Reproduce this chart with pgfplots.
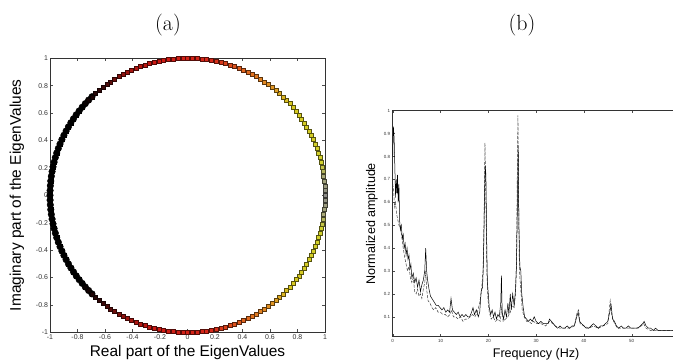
\documentclass[border=0pt]{standalone}
\usepackage{fontspec}
\setsansfont{Liberation Sans}
\usepackage{pgfplots}
\pgfplotsset{compat=1.18}
\usepackage{pgfplotstable}

\pgfplotstableread{
x y m
1.0000 0.0000 0
0.9994 0.0349 2
0.9976 0.0698 4
0.9945 0.1045 6
0.9903 0.1392 8
0.9848 0.1736 10
0.9781 0.2079 12
0.9703 0.2419 14
0.9613 0.2756 16
0.9511 0.3090 18
0.9397 0.3420 20
0.9272 0.3746 22
0.9135 0.4067 24
0.8988 0.4384 26
0.8829 0.4695 28
0.8660 0.5000 30
0.8480 0.5299 32
0.8290 0.5592 34
0.8090 0.5878 36
0.7880 0.6157 38
0.7660 0.6428 40
0.7431 0.6691 42
0.7193 0.6947 44
0.6947 0.7193 46
0.6691 0.7431 48
0.6428 0.7660 50
0.6157 0.7880 52
0.5878 0.8090 54
0.5592 0.8290 56
0.5299 0.8480 58
0.5000 0.8660 60
0.4695 0.8829 62
0.4384 0.8988 64
0.4067 0.9135 66
0.3746 0.9272 68
0.3420 0.9397 70
0.3090 0.9511 72
0.2756 0.9613 74
0.2419 0.9703 76
0.2079 0.9781 78
0.1736 0.9848 80
0.1392 0.9903 82
0.1045 0.9945 84
0.0698 0.9976 86
0.0349 0.9994 88
0.0000 1.0000 90
-0.0349 0.9994 92
-0.0698 0.9976 94
-0.1045 0.9945 96
-0.1392 0.9903 98
-0.1736 0.9848 100
-0.2079 0.9781 102
-0.2419 0.9703 104
-0.2756 0.9613 106
-0.3090 0.9511 108
-0.3420 0.9397 110
-0.3746 0.9272 112
-0.4067 0.9135 114
-0.4384 0.8988 116
-0.4695 0.8829 118
-0.5000 0.8660 120
-0.5299 0.8480 122
-0.5592 0.8290 124
-0.5878 0.8090 126
-0.6157 0.7880 128
-0.6428 0.7660 130
-0.6691 0.7431 132
-0.6947 0.7193 134
-0.7193 0.6947 136
-0.7431 0.6691 138
-0.7660 0.6428 140
-0.7880 0.6157 142
-0.8090 0.5878 144
-0.8290 0.5592 146
-0.8480 0.5299 148
-0.8660 0.5000 150
-0.8829 0.4695 152
-0.8988 0.4384 154
-0.9135 0.4067 156
-0.9272 0.3746 158
-0.9397 0.3420 160
-0.9511 0.3090 162
-0.9613 0.2756 164
-0.9703 0.2419 166
-0.9781 0.2079 168
-0.9848 0.1736 170
-0.9903 0.1392 172
-0.9945 0.1045 174
-0.9976 0.0698 176
-0.9994 0.0349 178
-1.0000 0.0000 180
}\uppertab

\pgfplotstableread{
x y m
0.9994 -0.0349 2
0.9976 -0.0698 4
0.9945 -0.1045 6
0.9903 -0.1392 8
0.9848 -0.1736 10
0.9781 -0.2079 12
0.9703 -0.2419 14
0.9613 -0.2756 16
0.9511 -0.3090 18
0.9397 -0.3420 20
0.9272 -0.3746 22
0.9135 -0.4067 24
0.8988 -0.4384 26
0.8829 -0.4695 28
0.8660 -0.5000 30
0.8480 -0.5299 32
0.8290 -0.5592 34
0.8090 -0.5878 36
0.7880 -0.6157 38
0.7660 -0.6428 40
0.7431 -0.6691 42
0.7193 -0.6947 44
0.6947 -0.7193 46
0.6691 -0.7431 48
0.6428 -0.7660 50
0.6157 -0.7880 52
0.5878 -0.8090 54
0.5592 -0.8290 56
0.5299 -0.8480 58
0.5000 -0.8660 60
0.4695 -0.8829 62
0.4384 -0.8988 64
0.4067 -0.9135 66
0.3746 -0.9272 68
0.3420 -0.9397 70
0.3090 -0.9511 72
0.2756 -0.9613 74
0.2419 -0.9703 76
0.2079 -0.9781 78
0.1736 -0.9848 80
0.1392 -0.9903 82
0.1045 -0.9945 84
0.0698 -0.9976 86
0.0349 -0.9994 88
0.0000 -1.0000 90
-0.0349 -0.9994 92
-0.0698 -0.9976 94
-0.1045 -0.9945 96
-0.1392 -0.9903 98
-0.1736 -0.9848 100
-0.2079 -0.9781 102
-0.2419 -0.9703 104
-0.2756 -0.9613 106
-0.3090 -0.9511 108
-0.3420 -0.9397 110
-0.3746 -0.9272 112
-0.4067 -0.9135 114
-0.4384 -0.8988 116
-0.4695 -0.8829 118
-0.5000 -0.8660 120
-0.5299 -0.8480 122
-0.5592 -0.8290 124
-0.5878 -0.8090 126
-0.6157 -0.7880 128
-0.6428 -0.7660 130
-0.6691 -0.7431 132
-0.6947 -0.7193 134
-0.7193 -0.6947 136
-0.7431 -0.6691 138
-0.7660 -0.6428 140
-0.7880 -0.6157 142
-0.8090 -0.5878 144
-0.8290 -0.5592 146
-0.8480 -0.5299 148
-0.8660 -0.5000 150
-0.8829 -0.4695 152
-0.8988 -0.4384 154
-0.9135 -0.4067 156
-0.9272 -0.3746 158
-0.9397 -0.3420 160
-0.9511 -0.3090 162
-0.9613 -0.2756 164
-0.9703 -0.2419 166
-0.9781 -0.2079 168
-0.9848 -0.1736 170
-0.9903 -0.1392 172
-0.9945 -0.1045 174
-0.9976 -0.0698 176
-0.9994 -0.0349 178
}\lowertab

\pgfplotstableread{
f a
0.0 0.80
0.15 0.93
0.3 0.88
0.45 0.75
0.6 0.62
0.75 0.70
0.9 0.64
1.0 0.72
1.15 0.60
1.3 0.68
1.45 0.52
1.6 0.48
1.8 0.50
2.0 0.44
2.2 0.46
2.4 0.40
2.6 0.42
2.8 0.37
3.0 0.40
3.2 0.35
3.4 0.37
3.6 0.31
3.8 0.33
4.0 0.27
4.3 0.29
4.6 0.25
4.9 0.27
5.2 0.23
5.5 0.26
5.8 0.21
6.1 0.24
6.4 0.26
6.7 0.30
6.9 0.40
7.1 0.30
7.3 0.26
7.6 0.22
7.9 0.19
8.2 0.18
8.5 0.17
8.8 0.16
9.1 0.15
9.5 0.15
9.9 0.14
10.3 0.13
10.7 0.14
11.1 0.12
11.5 0.13
11.9 0.12
12.2 0.18
12.5 0.13
12.9 0.12
13.3 0.11
13.7 0.12
14.1 0.10
14.5 0.11
14.9 0.10
15.3 0.11
15.7 0.10
16.1 0.10
16.5 0.12
16.8 0.14
17.1 0.11
17.5 0.13
17.9 0.10
18.2 0.12
18.5 0.21
18.8 0.23
19.0 0.35
19.2 0.62
19.35 0.76
19.5 0.72
19.65 0.45
19.8 0.25
20.0 0.20
20.2 0.14
20.5 0.11
20.8 0.13
21.1 0.10
21.4 0.12
21.7 0.09
22.0 0.11
22.3 0.10
22.6 0.16
22.75 0.28
22.9 0.12
23.2 0.09
23.5 0.13
23.8 0.10
24.1 0.16
24.3 0.11
24.6 0.20
24.8 0.13
25.1 0.20
25.4 0.15
25.7 0.22
25.9 0.33
26.1 0.60
26.25 0.85
26.4 0.50
26.6 0.32
26.8 0.30
27.0 0.20
27.3 0.14
27.6 0.10
28.0 0.09
28.4 0.08
28.8 0.09
29.2 0.08
29.6 0.10
30.0 0.08
30.5 0.07
31.0 0.08
31.5 0.07
32.0 0.07
32.5 0.07
32.8 0.09
33.2 0.08
33.6 0.07
34.0 0.06
34.5 0.05
35.0 0.06
35.5 0.05
36.0 0.05
36.5 0.06
37.0 0.05
37.5 0.06
38.0 0.06
38.5 0.10
38.8 0.12
39.1 0.08
39.5 0.07
40.0 0.06
40.5 0.05
41.0 0.05
41.5 0.06
42.0 0.07
42.5 0.06
43.0 0.05
43.5 0.06
44.0 0.06
44.5 0.07
45.0 0.08
45.4 0.12
45.7 0.15
46.0 0.09
46.4 0.08
46.8 0.06
47.3 0.05
47.8 0.06
48.3 0.05
48.8 0.05
49.3 0.06
49.8 0.05
50.3 0.05
50.8 0.05
51.3 0.05
51.8 0.06
52.3 0.07
52.6 0.08
53.0 0.06
53.5 0.05
54.0 0.05
54.5 0.04
55.0 0.05
55.5 0.04
56.0 0.04
56.5 0.04
57.0 0.04
57.5 0.04
58.0 0.04
58.5 0.04
59.0 0.04
60.0 0.04
}\solidtab

\pgfplotstableread{
f a
0.0 0.68
0.2 0.65
0.4 0.58
0.6 0.60
0.8 0.55
1.0 0.53
1.3 0.50
1.6 0.49
1.9 0.45
2.2 0.40
2.5 0.36
2.8 0.33
3.1 0.30
3.4 0.32
3.7 0.27
4.0 0.25
4.3 0.27
4.6 0.21
4.9 0.20
5.2 0.22
5.5 0.19
5.8 0.20
6.1 0.18
6.4 0.22
6.7 0.25
6.9 0.30
7.1 0.22
7.4 0.17
7.8 0.16
8.2 0.14
8.6 0.13
9.0 0.14
9.5 0.12
10.0 0.12
10.5 0.11
11.0 0.11
11.5 0.10
12.0 0.11
12.3 0.13
12.7 0.10
13.2 0.10
13.7 0.09
14.2 0.10
14.7 0.08
15.2 0.09
15.7 0.09
16.2 0.10
16.7 0.11
17.2 0.10
17.7 0.12
18.2 0.16
18.6 0.22
18.9 0.30
19.1 0.50
19.3 0.86
19.5 0.60
19.7 0.30
19.9 0.18
20.2 0.12
20.6 0.09
21.0 0.10
21.5 0.08
22.0 0.09
22.5 0.08
22.8 0.14
23.1 0.08
23.6 0.09
24.1 0.10
24.6 0.12
25.0 0.15
25.4 0.14
25.7 0.20
25.9 0.35
26.05 0.70
26.2 0.98
26.35 0.60
26.5 0.30
26.8 0.22
27.1 0.13
27.5 0.10
28.0 0.08
28.5 0.08
29.0 0.07
29.5 0.08
30.0 0.07
31.0 0.07
32.0 0.06
32.8 0.08
33.5 0.07
34.0 0.06
35.0 0.05
36.0 0.05
37.0 0.05
38.0 0.06
38.6 0.12
38.9 0.13
39.2 0.07
40.0 0.06
41.0 0.05
42.0 0.06
43.0 0.05
44.0 0.06
45.0 0.07
45.5 0.17
45.8 0.11
46.2 0.08
47.0 0.05
48.0 0.05
49.0 0.05
50.0 0.05
51.0 0.05
52.0 0.06
52.5 0.07
53.0 0.05
54.0 0.04
55.0 0.04
56.0 0.04
57.0 0.04
58.0 0.04
60.0 0.04
}\dashedtab

\begin{document}
\begin{tikzpicture}[x=1bp,y=1bp]
\useasboundingbox (0,0) rectangle (673,362);
\clip (0,0) rectangle (673,362);

\node[font=\fontsize{22}{24}\selectfont] at (168,337) {(a)};
\node[font=\fontsize{22}{24}\selectfont] at (522,337) {(b)};

\begin{axis}[
  at={(50bp,29.7bp)}, anchor=south west,
  scale only axis, width=275bp, height=274bp,
  xmin=-1, xmax=1, ymin=-1, ymax=1,
  xtick={-1,-0.8,-0.6,-0.4,-0.2,0,0.2,0.4,0.6,0.8,1},
  ytick={-1,-0.8,-0.6,-0.4,-0.2,0,0.2,0.4,0.6,0.8,1},
  tick label style={font=\sffamily\fontsize{7}{8}\selectfont, color=black!80},
  /pgf/number format/assume math mode=true,
  /pgf/number format/fixed,
  major tick length=3bp,
  axis line style={black!80, line width=0.5bp},
  tick style={black!70, line width=0.4bp},
  xticklabel style={yshift=1bp},
  yticklabel style={xshift=1.5bp},
  xlabel={Real part of the EigenValues},
  ylabel={Imaginary part of the EigenValues},
  label style={font=\sffamily\fontsize{15.5}{17}\selectfont},
  xlabel style={at={(axis description cs:0.5,0)}, anchor=north, yshift=-13bp, inner sep=0pt},
  ylabel style={at={(axis description cs:-0.12,0.5)}, anchor=center, inner sep=0pt},
  colormap={eig}{rgb255(0)=(140,140,135) rgb255(8)=(170,170,120) rgb255(14)=(210,210,45) rgb255(42)=(215,200,30) rgb255(52)=(225,150,35) rgb255(66)=(225,100,30) rgb255(80)=(215,40,25) rgb255(104)=(205,25,20) rgb255(116)=(160,20,15) rgb255(128)=(60,10,10) rgb255(140)=(0,0,0) rgb255(180)=(0,0,0)},
  point meta min=0, point meta max=180,
]
\addplot[only marks, mark=*, mark size=3.3bp, black, restrict expr to domain={\thisrow{m}}{134:180}]
  table[x=x, y=y] {\uppertab};
\addplot[only marks, mark=*, mark size=3.3bp, black, restrict expr to domain={\thisrow{m}}{134:180}]
  table[x=x, y=y] {\lowertab};
\addplot[scatter, only marks, scatter src=explicit, mark=square*, mark size=2bp,
  scatter/use mapped color={draw=mapped color!40!black, fill=mapped color}, mark options={line width=0.35bp}]
  table[x=x, y=y, meta=m] {\uppertab};
\addplot[scatter, only marks, scatter src=explicit, mark=square*, mark size=2bp,
  scatter/use mapped color={draw=mapped color!40!black, fill=mapped color}, mark options={line width=0.35bp}]
  table[x=x, y=y, meta=m] {\lowertab};
\end{axis}

\begin{axis}[
  at={(392.7bp,25.3bp)}, anchor=south west,
  scale only axis, width=286.8bp, height=226bp,
  xmin=0, xmax=60, ymin=0.013, ymax=1,
  xtick={0,10,20,30,40,50},
  ytick={0.1,0.2,0.3,0.4,0.5,0.6,0.7,0.8,0.9,1},
  tick label style={font=\sffamily\fontsize{4.5}{5}\selectfont, color=black!80},
  /pgf/number format/assume math mode=true,
  /pgf/number format/fixed,
  major tick length=2.5bp,
  axis line style={black!80, line width=0.6bp},
  tick style={black!70, line width=0.4bp},
  xticklabel style={yshift=0.5bp},
  yticklabel style={xshift=1bp},
  xlabel={Frequency (Hz)},
  ylabel={Normalized amplitude},
  label style={font=\sffamily\fontsize{12.6}{14}\selectfont},
  xlabel style={at={(axis description cs:0.5,0)}, anchor=north, yshift=-11bp, inner sep=0pt},
  ylabel style={at={(axis description cs:-0.0722,0.5)}, anchor=center, inner sep=0pt},
]
\addplot[black!75, line width=0.5bp, dash pattern=on 3bp off 1.5bp] table[x=f, y=a] {\dashedtab};
\addplot[black, line width=0.5bp] table[x=f, y=a] {\solidtab};
\end{axis}
\end{tikzpicture}
\end{document}
